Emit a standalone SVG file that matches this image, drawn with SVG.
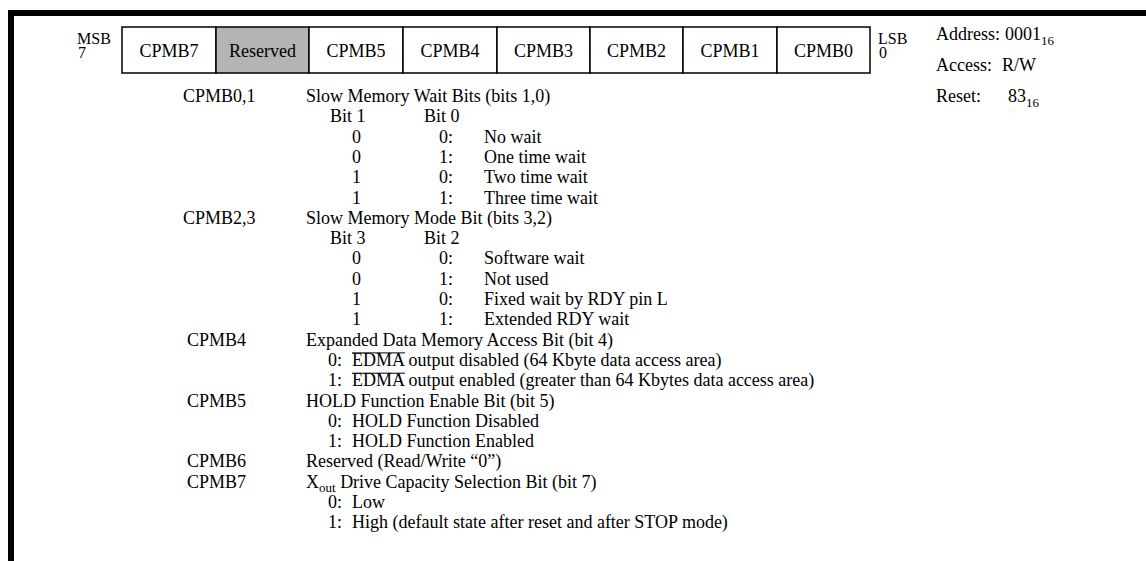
<svg xmlns="http://www.w3.org/2000/svg" width="1146" height="561" viewBox="0 0 1146 561">
<style>
text{font-family:"Liberation Serif","Times New Roman",serif;font-size:18px;fill:#000}
.sm{font-size:16px}
.sub{font-size:13px}
.cell{fill:#fff;stroke:#000;stroke-width:1.5}
.res{fill:#b4b4b4}
.ct{text-anchor:middle}
.ov{stroke:#000;stroke-width:1}
</style>
<rect width="1146" height="561" fill="#fff"/>
<g id="frame">
<rect x="8" y="10" width="1138" height="6" fill="#000"/>
<rect x="8" y="10" width="6" height="551" fill="#000"/>
</g>
<g id="register">
<text class="sm" x="77" y="44">MSB</text>
<text class="sm" x="78" y="58">7</text>
<rect class="cell" x="122" y="27" width="94" height="46"/>
<rect class="cell res" x="216" y="27" width="93" height="46"/>
<rect class="cell" x="309" y="27" width="94" height="46"/>
<rect class="cell" x="403" y="27" width="94" height="46"/>
<rect class="cell" x="497" y="27" width="93" height="46"/>
<rect class="cell" x="590" y="27" width="93" height="46"/>
<rect class="cell" x="683" y="27" width="94" height="46"/>
<rect class="cell" x="777" y="27" width="93" height="46"/>
<text class="ct" x="169" y="57">CPMB7</text>
<text class="ct" x="262.5" y="57">Reserved</text>
<text class="ct" x="356" y="57">CPMB5</text>
<text class="ct" x="450" y="57">CPMB4</text>
<text class="ct" x="543.5" y="57">CPMB3</text>
<text class="ct" x="636.5" y="57">CPMB2</text>
<text class="ct" x="730" y="57">CPMB1</text>
<text class="ct" x="823.5" y="57">CPMB0</text>
<text class="sm" x="878" y="44">LSB</text>
<text class="sm" x="879" y="58">0</text>
</g>
<g id="info">
<text x="936" y="40">Address:</text>
<text x="1005" y="40">0001<tspan class="sub" dy="5">16</tspan></text>
<text x="936" y="71">Access:</text>
<text x="1002" y="71">R/W</text>
<text x="936" y="102">Reset:</text>
<text x="1008" y="102">83<tspan class="sub" dy="5">16</tspan></text>
</g>
<g id="cpmb01">
<text x="183" y="102">CPMB0,1</text>
<text x="306" y="102">Slow Memory Wait Bits (bits 1,0)</text>
<text x="330" y="122.3">Bit 1</text>
<text x="424" y="122.3">Bit 0</text>
<text x="352" y="142.6">0</text><text x="439" y="142.6">0:</text><text x="484" y="142.6">No wait</text>
<text x="352" y="162.9">0</text><text x="439" y="162.9">1:</text><text x="484" y="162.9">One time wait</text>
<text x="352" y="183.2">1</text><text x="439" y="183.2">0:</text><text x="484" y="183.2">Two time wait</text>
<text x="352" y="203.5">1</text><text x="439" y="203.5">1:</text><text x="484" y="203.5">Three time wait</text>
</g>
<g id="cpmb23">
<text x="183" y="223.8">CPMB2,3</text>
<text x="306" y="223.8">Slow Memory Mode Bit (bits 3,2)</text>
<text x="330" y="244.1">Bit 3</text>
<text x="424" y="244.1">Bit 2</text>
<text x="352" y="264.4">0</text><text x="439" y="264.4">0:</text><text x="484" y="264.4">Software wait</text>
<text x="352" y="284.7">0</text><text x="439" y="284.7">1:</text><text x="484" y="284.7">Not used</text>
<text x="352" y="305">1</text><text x="439" y="305">0:</text><text x="484" y="305">Fixed wait by RDY pin L</text>
<text x="352" y="325.3">1</text><text x="439" y="325.3">1:</text><text x="484" y="325.3">Extended RDY wait</text>
</g>
<g id="cpmb4">
<text x="187" y="345.6">CPMB4</text>
<text x="306" y="345.6">Expanded Data Memory Access Bit (bit 4)</text>
<text x="328" y="365.9">0:</text>
<text x="352" y="365.9">EDMA output disabled (64 Kbyte data access area)</text>
<line class="ov" x1="352" y1="352.9" x2="405" y2="352.9"/>
<text x="328" y="386.2">1:</text>
<text x="352" y="386.2">EDMA output enabled (greater than 64 Kbytes data access area)</text>
<line class="ov" x1="352" y1="373.2" x2="405" y2="373.2"/>
</g>
<g id="cpmb5">
<text x="187" y="406.5">CPMB5</text>
<text x="306" y="406.5">HOLD Function Enable Bit (bit 5)</text>
<text x="328" y="426.8">0:</text><text x="352" y="426.8">HOLD Function Disabled</text>
<text x="328" y="447.1">1:</text><text x="352" y="447.1">HOLD Function Enabled</text>
</g>
<g id="cpmb6">
<text x="187" y="467.4">CPMB6</text>
<text x="306" y="467.4">Reserved (Read/Write “0”)</text>
</g>
<g id="cpmb7">
<text x="187" y="487.7">CPMB7</text>
<text x="306" y="487.7">X<tspan class="sub" dy="4">out</tspan><tspan dy="-4"> Drive Capacity Selection Bit (bit 7)</tspan></text>
<text x="328" y="508">0:</text><text x="352" y="508">Low</text>
<text x="328" y="528.3">1:</text><text x="352" y="528.3">High (default state after reset and after STOP mode)</text>
</g>
</svg>
